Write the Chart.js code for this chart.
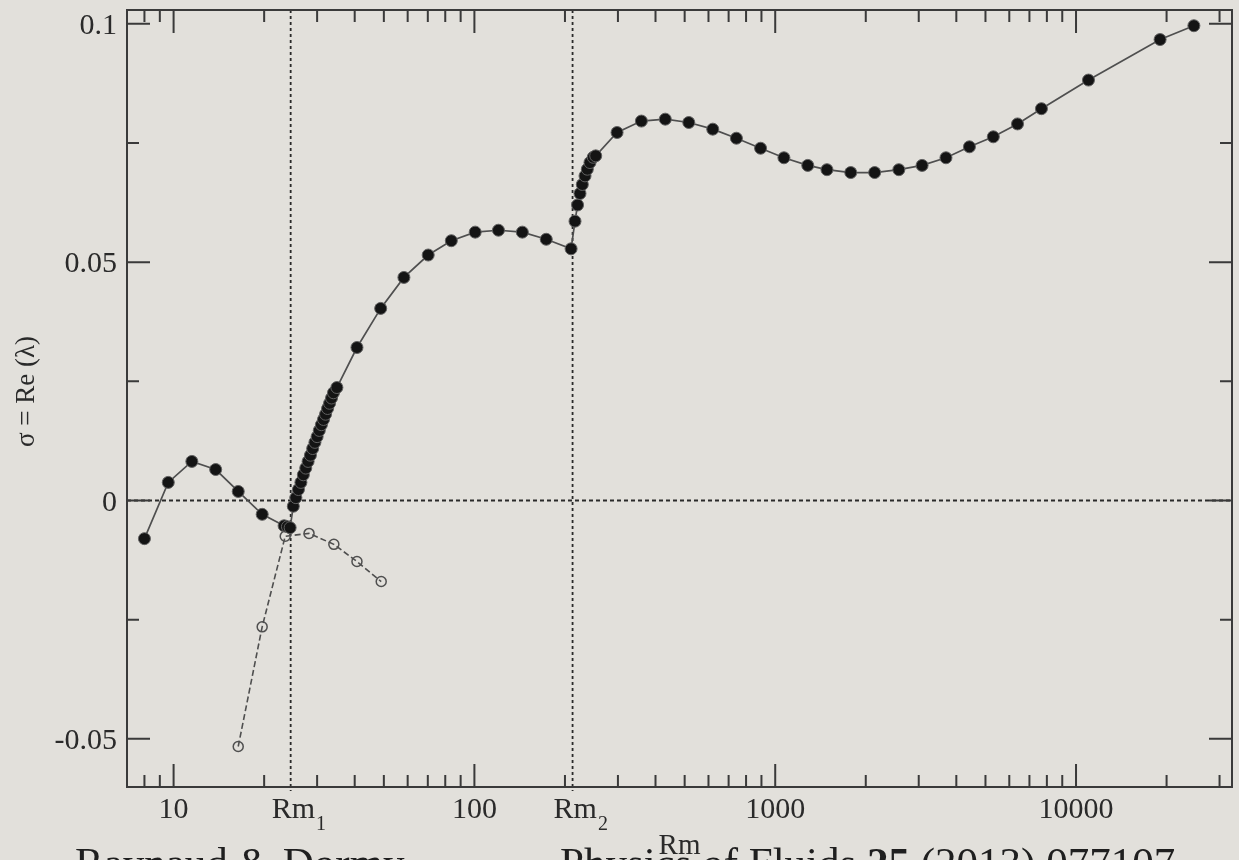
<!DOCTYPE html>
<html>
<head>
<meta charset="utf-8">
<script src="https://cdn.jsdelivr.net/npm/chart.js@4.4.0/dist/chart.umd.min.js"></script>
<style>
  html, body { margin: 0; padding: 0; background: #e2e0db; overflow: hidden; }
  #wrap { position: relative; width: 1239px; height: 860px; }
  #caption { position: absolute; top: 841px; left: 0; width: 1239px; height: 60px;
             font-family: 'Liberation Serif', serif; font-size: 43px; line-height: 43px;
             color: #1f1f1f; white-space: nowrap; }
  #caption span { position: absolute; top: 0; }
</style>
</head>
<body>
<div id="wrap">
  <canvas id="myChart" width="1239" height="860"></canvas>
  <div id="caption"><span style="left:75px">Raynaud &amp; Dormy</span><span style="left:560px">Physics of Fluids <b>25</b> (2013) 077107</span></div>
</div>
<script>
// sigma = Re(lambda) against Rm
const rmSolid = [8, 9.6, 11.5, 13.8, 16.4, 19.7, 23.3, 23.9, 24.4,
  25, 25.5, 26, 26.5, 27, 27.5, 28, 28.5, 29, 29.5, 30, 30.5, 31, 31.5, 32, 32.5, 33, 33.5, 34, 34.9,
  40.7, 48.8, 58.3, 70.2, 83.8, 100.6, 120.2, 144.3, 173.3, 209.6,
  216, 220.3, 224.4, 228.4, 233.2, 237.3, 242.2, 248.3, 253.1,
  298, 359, 431, 516, 620, 743, 894, 1069, 1283, 1486, 1783, 2141, 2576, 3078, 3695, 4422, 5309, 6390, 7674, 11000, 19030, 24650];
const sigmaSolid = [-0.0080, 0.0038, 0.0082, 0.0065, 0.0019, -0.0029, -0.0053, -0.0055, -0.0057,
  -0.0012, 0.0006, 0.0023, 0.0038, 0.0054, 0.0068, 0.0082, 0.0095, 0.0109, 0.0122, 0.0134, 0.0147, 0.0159, 0.0170, 0.0181, 0.0193, 0.0204, 0.0215, 0.0226, 0.0237,
  0.0321, 0.0403, 0.0468, 0.0515, 0.0545, 0.0563, 0.0567, 0.0563, 0.0548, 0.0528,
  0.0586, 0.0620, 0.0644, 0.0663, 0.0681, 0.0695, 0.0709, 0.0720, 0.0723,
  0.0772, 0.0796, 0.0800, 0.0793, 0.0779, 0.0760, 0.0739, 0.0719, 0.0703, 0.0694, 0.0688, 0.0688, 0.0694, 0.0703, 0.0719, 0.0742, 0.0763, 0.0790, 0.0822, 0.0882, 0.0967, 0.0996];

const rmDashed = [16.4, 19.7, 23.5, 28.2, 34.1, 40.7, 49.0];
const sigmaDashed = [-0.0516, -0.0265, -0.0075, -0.0069, -0.0092, -0.0128, -0.0170];

// critical Rm (dotted verticals) and their subscripts
const rmCrit = [24.5, 212];
const rmCritSub = ['1', '2'];

// axis ticks
const xMajor = [10, 100, 1000, 10000];
const xMinor = [8, 9, 20, 30, 40, 50, 60, 70, 80, 90, 200, 300, 400, 500, 600, 700, 800, 900,
  2000, 3000, 4000, 5000, 6000, 7000, 8000, 9000, 20000, 30000];
const yMajor = [-0.05, 0, 0.05, 0.1];
const yMajorLabels = ['-0.05', '0', '0.05', '0.1'];
const yMinor = [-0.025, 0.025, 0.075];

const serif = '"Liberation Serif", "Times New Roman", serif';
const ink = '#2a2a2a';

const framePlugin = {
  id: 'framePlugin',
  beforeDatasetsDraw(chart) {
    const {ctx, chartArea: a, scales: {x, y}} = chart;
    ctx.save();
    ctx.strokeStyle = ink;
    ctx.lineWidth = 1.8;
    // dotted zero line
    ctx.setLineDash([4, 3]);
    const y0 = y.getPixelForValue(0);
    ctx.beginPath(); ctx.moveTo(a.left, y0); ctx.lineTo(a.right, y0); ctx.stroke();
    // dotted Rm1 / Rm2
    ctx.setLineDash([3, 3]);
    rmCrit.forEach(v => {
      const px = x.getPixelForValue(v);
      ctx.beginPath(); ctx.moveTo(px, a.top); ctx.lineTo(px, a.bottom + 4); ctx.stroke();
    });
    ctx.restore();
  },
  afterDatasetsDraw(chart) {
    const {ctx, chartArea: a, scales: {x, y}} = chart;
    ctx.save();
    ctx.strokeStyle = '#3a3a3a';
    ctx.lineWidth = 2;
    ctx.strokeRect(a.left, a.top, a.right - a.left, a.bottom - a.top);

    const xTick = (v, len) => {
      const px = x.getPixelForValue(v);
      ctx.beginPath();
      ctx.moveTo(px, a.bottom); ctx.lineTo(px, a.bottom - len);
      ctx.moveTo(px, a.top); ctx.lineTo(px, a.top + len);
      ctx.stroke();
    };
    const yTick = (v, len) => {
      const py = y.getPixelForValue(v);
      ctx.beginPath();
      ctx.moveTo(a.left, py); ctx.lineTo(a.left + len, py);
      ctx.moveTo(a.right, py); ctx.lineTo(a.right - len, py);
      ctx.stroke();
    };
    xMajor.forEach(v => xTick(v, 23));
    xMinor.forEach(v => xTick(v, 12));
    yMajor.forEach(v => yTick(v, 23));
    yMinor.forEach(v => yTick(v, 12));

    // tick labels
    ctx.fillStyle = ink;
    ctx.font = '30px ' + serif;
    ctx.textBaseline = 'alphabetic';
    ctx.textAlign = 'right';
    yMajor.forEach((v, i) => ctx.fillText(yMajorLabels[i], a.left - 10, y.getPixelForValue(v) + 10));
    ctx.textAlign = 'center';
    xMajor.forEach(v => ctx.fillText(String(v), x.getPixelForValue(v), a.bottom + 31));

    // Rm1, Rm2 labels with subscripts
    ctx.textAlign = 'left';
    rmCrit.forEach((v, i) => {
      const px = x.getPixelForValue(v) - 19;
      ctx.font = '30px ' + serif;
      ctx.fillText('Rm', px, a.bottom + 31);
      const w = ctx.measureText('Rm').width;
      ctx.font = '20px ' + serif;
      ctx.fillText(rmCritSub[i], px + w + 1, a.bottom + 43);
    });

    // axis titles
    ctx.textAlign = 'center';
    ctx.font = '29px ' + serif;
    ctx.fillText('Rm', (a.left + a.right) / 2, a.bottom + 67);
    ctx.save();
    ctx.translate(27, (a.top + a.bottom) / 2 - 7);
    ctx.rotate(-Math.PI / 2);
    ctx.textBaseline = 'middle';
    ctx.font = '27px ' + serif;
    ctx.fillText('\u03c3 = Re (\u03bb)', 0, 0);
    ctx.restore();
    ctx.restore();
  }
};

const ctx = document.getElementById('myChart').getContext('2d');
const myChart = new Chart(ctx, {
  type: 'line',
  data: {
    datasets: [
      {
        label: 'growth rate',
        data: rmSolid.map((r, i) => ({x: r, y: sigmaSolid[i]})),
        borderColor: '#4f4f4f',
        borderWidth: 1.7,
        pointRadius: 6,
        pointBackgroundColor: '#141414',
        pointBorderColor: '#606060',
        pointBorderWidth: 1,
        tension: 0
      },
      {
        label: 'complex branch',
        data: rmDashed.map((r, i) => ({x: r, y: sigmaDashed[i]})),
        borderColor: '#4f4f4f',
        borderWidth: 1.6,
        borderDash: [6, 3],
        pointRadius: 5,
        pointBackgroundColor: 'rgba(0,0,0,0)',
        pointBorderColor: '#4f4f4f',
        pointBorderWidth: 1.5,
        tension: 0
      }
    ]
  },
  options: {
    responsive: false,
    animation: false,
    devicePixelRatio: 1,
    layout: { padding: { left: 127, right: 2, top: 10, bottom: 73 } },
    plugins: { legend: { display: false }, tooltip: { enabled: false } },
    scales: {
      x: { type: 'logarithmic', min: 7, max: 33000, display: false },
      y: { type: 'linear', min: -0.0601, max: 0.1029, display: false }
    }
  },
  plugins: [framePlugin]
});
</script>
</body>
</html>
